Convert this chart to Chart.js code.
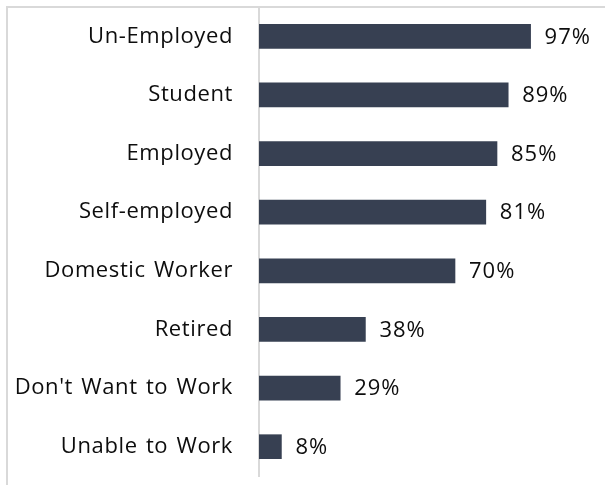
<!DOCTYPE html>
<html>
<head>
<meta charset="utf-8">
<script src="https://cdn.jsdelivr.net/npm/chart.js@4"></script>
<style>
  html, body { margin: 0; padding: 0; background: #fff; overflow: hidden; }
  #wrap { position: absolute; left: 0; top: 0; width: 605px; height: 485px; }
</style>
</head>
<body>
<div id="wrap"><canvas id="statusChart"></canvas></div>
<script>
const categories = [
  "Un-Employed",
  "Student",
  "Employed",
  "Self-employed",
  "Domestic Worker",
  "Retired",
  "Don't Want to Work",
  "Unable to Work"
];
const shares = [97, 89, 85, 81, 70, 38, 29, 8];

const FONT = "'Open Sans', 'Noto Sans', sans-serif";

// light frame along the top and left edges, plus a slightly looser text setting
const frame = {
  id: "frame",
  beforeDraw(chart) {
    const ctx = chart.ctx;
    ctx.save();
    ctx.fillStyle = "#d9d9d9";
    ctx.fillRect(6, 6, chart.width - 6, 2);
    ctx.fillRect(6, 6, 2, chart.height - 6);
    ctx.restore();
    ctx.letterSpacing = "0.6px";
    ctx.wordSpacing = "2px";
  }
};

// write "NN%" just past the end of each bar
const valueLabels = {
  id: "valueLabels",
  afterDatasetsDraw(chart) {
    const ctx = chart.ctx;
    const meta = chart.getDatasetMeta(0);
    ctx.save();
    ctx.font = "22px " + FONT;
    ctx.letterSpacing = "1px";
    ctx.fillStyle = "#0d0d0d";
    ctx.textAlign = "left";
    ctx.textBaseline = "middle";
    meta.data.forEach((bar, i) => {
      ctx.fillText(shares[i] + "%", bar.x + 14, bar.y + 1);
    });
    ctx.restore();
  }
};

const ctx = document.getElementById("statusChart").getContext("2d");
window.statusChart = new Chart(ctx, {
  type: "bar",
  data: {
    labels: categories,
    datasets: [{
      data: shares,
      backgroundColor: "#374052",
      barThickness: 24
    }]
  },
  options: {
    indexAxis: "y",
    responsive: true,
    maintainAspectRatio: false,
    animation: false,
    layout: { padding: { left: 0, top: 7, bottom: 9, right: 66 } },
    plugins: {
      legend: { display: false },
      tooltip: { enabled: false }
    },
    scales: {
      x: {
        min: 0,
        max: 100,
        display: false
      },
      y: {
        afterFit(scale) {
          scale.width = 259;
          scale.paddingTop = 0;
          scale.paddingBottom = 0;
        },
        grid: { display: false, drawTicks: false },
        border: { display: true, color: "#d9d9d9", width: 2 },
        ticks: {
          padding: 26,
          color: "#0d0d0d",
          font: { family: FONT, size: 22 }
        }
      }
    }
  },
  plugins: [frame, valueLabels]
});
</script>
</body>
</html>
